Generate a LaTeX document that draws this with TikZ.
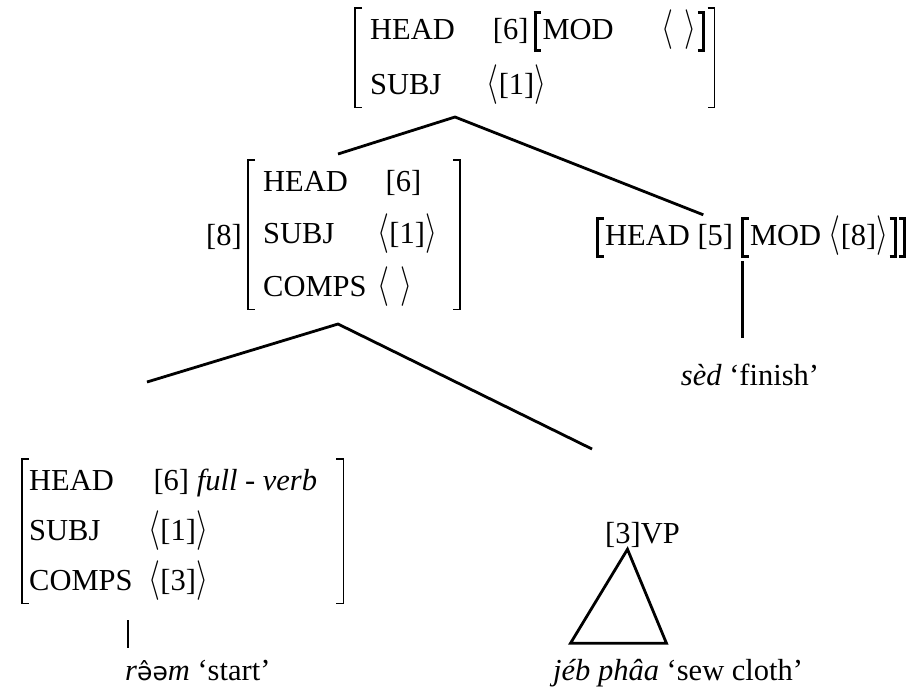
\RequirePackage{fix-cm}
\documentclass[tikz,border=0pt]{standalone}
\usepackage{fontspec}
\usepackage{graphicx}
\setmainfont{Liberation Serif}
\newfontfamily\ipafont{DejaVu Sans}
\usetikzlibrary{positioning}

\newcommand\avmfont{\fontsize{30.5}{44}\selectfont}
% bold brackets of the small AVMs
\newcommand\blb{\rule[-13pt]{3pt}{41pt}\kern-3pt\rule[25pt]{7.5pt}{3pt}\kern-7.5pt\rule[-13pt]{7.5pt}{3pt}\kern1.5pt}
\newcommand\brb{\kern1.5pt\rule[-13pt]{7.5pt}{3pt}\kern-7.5pt\rule[25pt]{7.5pt}{3pt}\kern-3pt\rule[-13pt]{3pt}{41pt}}
\newcommand\lng[1]{\scalebox{1}[1.3]{$\langle$}#1\scalebox{1}[1.3]{$\rangle$}}

\begin{document}
\begin{tikzpicture}[x=1pt, y=-1pt, every node/.style={font=\avmfont, inner sep=0pt},
    avm/.style={anchor=north west},
    brk/.style={line width=1.3pt},
    tree/.style={line width=2.8pt}]
  \useasboundingbox (0,0) rectangle (918,689);
  % mother
  \node[avm] (top) at (355,8) {\begin{tabular}{@{\hspace{15pt}}l@{\hspace{32pt}}l@{\hspace{9pt}}}
    HEAD & \hspace{6pt}[6]\,\blb MOD\hspace{48pt}\lng{\hspace{11pt}}\brb\\[11pt]
    SUBJ & \lng{[1]}
  \end{tabular}};
  % head daughter [8]
  \node[avm] (mid) at (248,160) {\begin{tabular}{@{\hspace{15pt}}l@{\hspace{11pt}}l@{\hspace{23pt}}}
    HEAD & \hspace{8pt}[6]\\[8.5pt]
    SUBJ & \lng{[1]}\\[8.5pt]
    COMPS & \lng{\hspace{11pt}}
  \end{tabular}};
  \node[anchor=base east] (tag8) at (242,245) {[8]};
  % modifier
  \node[anchor=base west] (hd5) at (596,245) {\blb HEAD [5]};
  \node[base right=7.6pt of hd5] (mod8) {\blb MOD \lng{[8]}\brb\brb};
  \node[anchor=base] (fin) at (750,385) {\textit{sèd} `finish'};
  % lower level
  \node[avm] (bot) at (22,459) {\begin{tabular}{@{\hspace{7pt}}l@{\hspace{16pt}}l@{\hspace{26pt}}}
    HEAD & \hspace{5pt}[6] \textit{full - verb}\\[6pt]
    SUBJ & \lng{[1]}\\[6pt]
    COMPS & \lng{[3]}
  \end{tabular}};
  \node[anchor=base west] (start) at (125,680) {\textit{r}{\ipafont\fontsize{25}{30}\selectfont ə̂ə}\textit{m} `start'};
  \node[anchor=base west, inner ysep=2pt] (vp) at (605,543) {[3]VP};
  \node[anchor=base west] (sew) at (553,680) {\textit{jéb phâa} `sew cloth'};
  % AVM brackets
  \foreach \n in {top,mid,bot} {
    \draw[brk] ([xshift=7pt]\n.north west) -- (\n.north west) -- (\n.south west) -- ([xshift=7pt]\n.south west);
    \draw[brk] ([xshift=-7pt]\n.north east) -- (\n.north east) -- (\n.south east) -- ([xshift=-7pt]\n.south east);
  }
  % branches
  \coordinate (rootS) at (455,117);
  \coordinate (rootM) at (338,324);
  \coordinate (leafL) at (147,382);
  \coordinate (leafR) at (592,449);
  \draw[tree] ([xshift=90pt,yshift=6pt]mid.north west) -- (rootS) -- ([xshift=-30pt,yshift=2pt]hd5.north east);
  \draw[tree] (leafL) -- (rootM) -- (leafR);
  \draw[tree] ([xshift=1.5pt,yshift=-3pt]mod8.south west) -- ++(0,77);
  \draw[tree] ([xshift=106pt,yshift=-17pt]bot.south west) -- ++(0,28);
  % VP triangle
  \draw[tree] ([xshift=-15pt]vp.south) -- ++(-57,94) -- ++(96,0) -- cycle;
\end{tikzpicture}
\end{document}
